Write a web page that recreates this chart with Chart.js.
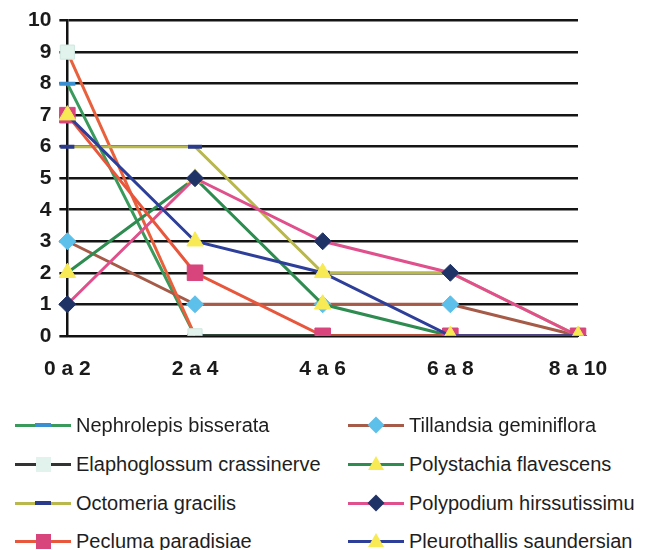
<!DOCTYPE html>
<html>
<head>
<meta charset="utf-8">
<script src="https://cdn.jsdelivr.net/npm/chart.js@4.4.1/dist/chart.umd.min.js"></script>
<style>
    body { margin: 0; background: #fff; font-family: "Liberation Sans", Arial, sans-serif; }
    #wrap { position: relative; width: 658px; height: 550px; }
    #chartBox { position: absolute; left: 0; top: 0; width: 658px; height: 417px; }
    .item { position: absolute; height: 24px; display: flex; align-items: center; }
    .sym { position: relative; width: 56px; height: 24px; margin-right: 5px; }
    .sym .ln { position: absolute; left: 0; right: 0; top: 11px; height: 3px; }
    .sym .mk { position: absolute; left: 50%; top: 50%; }
    .txt { font-size: 20px; color: #1e1e1e; white-space: nowrap; }
</style>
</head>
<body>
<div id="wrap">
    <div id="chartBox"><canvas id="lineChart"></canvas></div>
    <div id="legend"></div>
</div>
<script>
const categories = ["0 a 2", "2 a 4", "4 a 6", "6 a 8", "8 a 10"];

const seriesNames = [
    "Nephrolepis bisserata",
    "Tillandsia geminiflora",
    "Elaphoglossum crassinerve",
    "Polystachia flavescens",
    "Octomeria gracilis",
    "Polypodium hirssutissimu",
    "Pecluma paradisiae",
    "Pleurothallis saundersian"
];

const nephrolepis = [8, 0, 0, 0, 0];
const tillandsia = [3, 1, 1, 1, 0];
const elaphoglossum = [9, 0, 0, 0, 0];
const polystachia = [2, 5, 1, 0, 0];
const octomeria = [6, 6, 2, 2, 0];
const polypodium = [1, 5, 3, 2, 0];
const pecluma = [7, 2, 0, 0, 0];
const pleurothallis = [7, 3, 2, 0, 0];

const seriesValues = [nephrolepis, tillandsia, elaphoglossum, polystachia,
    octomeria, polypodium, pecluma, pleurothallis];

const yTicks = [0, 1, 2, 3, 4, 5, 6, 7, 8, 9, 10];

// line colour, legend line colour, marker style
const looks = [
    { line: "#3a9a5c", legendLine: "#3a9a5c", style: "line", fill: "#3a8fd0", border: "#3a8fd0", r: 8, bw: 4 },
    { line: "#a65a48", legendLine: "#a65a48", style: "rectRot", fill: "#5cc0ea", border: "#5cc0ea", r: 8.5, bw: 1 },
    { line: "#e8603c", legendLine: "#333333", style: "rect", fill: "#e2f2ec", border: "#d0e8e0", r: 10, bw: 1 },
    { line: "#2e8c50", legendLine: "#2e8c50", style: "triangle", fill: "#f8ea55", border: "#f8ea55", r: 9.5, bw: 1 },
    { line: "#b8b84c", legendLine: "#b8b84c", style: "line", fill: "#2a3a8c", border: "#2a3a8c", r: 7, bw: 4 },
    { line: "#e0508c", legendLine: "#e0508c", style: "rectRot", fill: "#1f3366", border: "#1f3366", r: 8.5, bw: 1 },
    { line: "#e8563c", legendLine: "#e8563c", style: "rect", fill: "#d8457c", border: "#d8457c", r: 11, bw: 1 },
    { line: "#2e3f9a", legendLine: "#2e3f9a", style: "triangle", fill: "#f8ea55", border: "#f8ea55", r: 9.5, bw: 1 }
];

const datasets = seriesNames.map((name, i) => ({
    label: name,
    data: seriesValues[i],
    borderColor: looks[i].line,
    borderWidth: 3,
    tension: 0,
    pointStyle: looks[i].style,
    pointRadius: looks[i].r,
    pointHoverRadius: looks[i].r,
    pointBackgroundColor: looks[i].fill,
    pointBorderColor: looks[i].border,
    pointBorderWidth: looks[i].bw,
    order: seriesNames.length - i   // later series on top, like the original
}));

// in the original the Elaphoglossum line runs dark once it sits on zero
datasets[2].segment = {
    borderColor: c => (c.p0.parsed.y === 0 && c.p1.parsed.y === 0) ? "#222" : undefined
};

new Chart(document.getElementById("lineChart"), {
    type: "line",
    data: { labels: categories, datasets: datasets },
    options: {
        responsive: true,
        maintainAspectRatio: false,
        animation: false,
        layout: { padding: { left: 20, right: 80, top: 14, bottom: 14 } },
        plugins: { legend: { display: false }, tooltip: { enabled: false } },
        scales: {
            x: {
                offset: false,
                grid: { display: false, drawTicks: false },
                border: { display: true, color: "#111", width: 2 },
                ticks: {
                    padding: 21,
                    color: "#1a1a1a",
                    font: { family: "'Liberation Sans', Arial", size: 21, weight: "bold" }
                }
            },
            y: {
                min: 0,
                max: 10,
                afterBuildTicks: axis => { axis.ticks = yTicks.map(v => ({ value: v })); },
                grid: { color: "#151515", lineWidth: 2.5, tickLength: 8 },
                border: { display: true, color: "#111", width: 2.5 },
                ticks: {
                    padding: 8,
                    color: "#1a1a1a",
                    font: { family: "'Liberation Sans', Arial", size: 21, weight: "bold" }
                }
            }
        }
    }
});

// legend drawn like the original: a short line with the marker in the middle
function markerEl(lk) {
    const m = document.createElement("span");
    m.className = "mk";
    if (lk.style === "line") {
        m.style.width = "16px"; m.style.height = "4px";
        m.style.marginLeft = "-8px"; m.style.marginTop = "-2px";
        m.style.background = lk.fill;
    } else if (lk.style === "rectRot") {
        m.style.width = "12px"; m.style.height = "12px";
        m.style.marginLeft = "-6px"; m.style.marginTop = "-6px";
        m.style.background = lk.fill;
        m.style.transform = "rotate(45deg)";
    } else if (lk.style === "rect") {
        m.style.width = "15px"; m.style.height = "15px";
        m.style.marginLeft = "-7.5px"; m.style.marginTop = "-7.5px";
        m.style.background = lk.fill;
    } else {
        m.style.width = "0"; m.style.height = "0";
        m.style.marginLeft = "-8px"; m.style.marginTop = "-8px";
        m.style.borderLeft = "8px solid transparent";
        m.style.borderRight = "8px solid transparent";
        m.style.borderBottom = "14px solid " + lk.fill;
    }
    return m;
}

const legend = document.getElementById("legend");
const rowY = [413, 452, 491, 529];
seriesNames.forEach((name, i) => {
    const item = document.createElement("div");
    item.className = "item";
    item.style.left = (i % 2 === 0 ? 15 : 348) + "px";
    item.style.top = rowY[Math.floor(i / 2)] + "px";

    const sym = document.createElement("span");
    sym.className = "sym";
    const ln = document.createElement("span");
    ln.className = "ln";
    ln.style.background = looks[i].legendLine;
    sym.appendChild(ln);
    sym.appendChild(markerEl(looks[i]));

    const txt = document.createElement("span");
    txt.className = "txt";
    txt.textContent = name;

    item.appendChild(sym);
    item.appendChild(txt);
    legend.appendChild(item);
});
</script>
</body>
</html>
